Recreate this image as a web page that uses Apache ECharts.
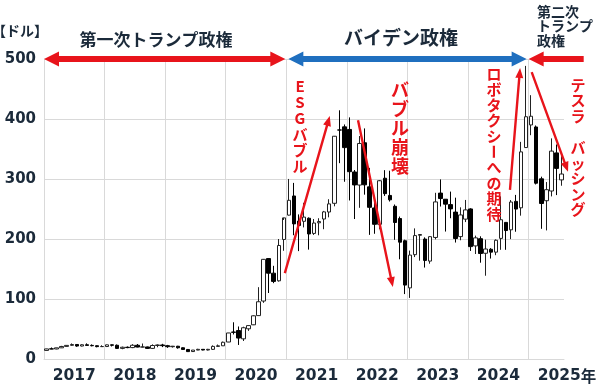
<!DOCTYPE html>
<html><head><meta charset="utf-8">
<script src="https://cdn.jsdelivr.net/npm/echarts@6/dist/echarts.min.js"></script>
<style>html,body{margin:0;padding:0;background:#fff}#c{width:600px;height:386px}</style>
</head><body><div id="c"></div>
<script>
// ---- data (monthly, USD, split-adjusted) ----
const years = ['2017','2018','2019','2020','2021','2022','2023','2024','2025'];
const monthsPerYear = [12,12,12,12,12,12,12,12,7];
const months = [];
years.forEach((y, i) => { for (let m = 1; m <= monthsPerYear[i]; m++) months.push(y + '-' + (m < 10 ? '0' + m : m)); });

const openP = [
 14.3,16.9,16.7,18.6,21.0,22.8,24.2,21.6,23.7,22.7,22.1,20.6,
 20.8,23.6,22.9,17.7,19.6,19.0,22.9,19.9,20.1,17.7,22.5,23.4,
 22.2,20.5,21.3,18.7,15.9,12.4,14.9,16.1,15.0,16.1,21.0,22.0,
 28.3,44.9,47.4,33.6,50.3,57.0,72.3,96.6,167.4,143.0,130.3,199.2,
 239.8,271.7,230.0,229.5,234.6,209.3,227.0,233.3,245.0,259.5,381.7,386.9,
 382.6,311.7,289.9,360.4,286.9,251.7,224.5,301.3,272.6,254.5,234.1,197.1,
 118.5,173.9,206.2,199.9,163.2,202.6,276.5,266.3,257.3,244.8,204.0,233.1,
 250.1,188.5,200.5,176.2,182.9,178.1,201.0,227.7,215.3,262.7,252.0,352.4,
 390.1,386.7,300.3,263.8,280.0,343.5,298.5];
const closeP = [
 16.8,16.7,18.6,20.9,22.7,24.1,21.6,23.7,22.7,22.1,20.6,20.8,
 23.6,22.9,17.7,19.6,19.0,22.9,19.9,20.1,17.7,22.5,23.4,22.2,
 20.5,21.3,18.7,15.9,12.3,14.9,16.1,15.0,16.1,21.0,22.0,27.9,
 43.4,44.5,34.9,52.1,55.7,72.0,95.4,166.1,143.0,129.3,189.2,235.2,
 264.5,225.2,222.6,236.5,208.4,226.6,229.1,245.2,258.5,371.3,381.6,352.3,
 312.2,290.1,359.2,290.3,252.8,224.5,297.1,275.6,265.3,227.5,194.7,123.2,
 173.2,205.7,207.5,164.3,203.9,261.8,267.4,258.1,250.2,200.8,240.1,248.5,
 187.3,201.9,175.8,183.3,178.1,197.9,232.1,214.1,261.6,249.9,345.2,403.8,
 404.6,293.0,259.2,282.2,346.5,317.7,308.3];
const lowP = [
 14.1,16.4,16.3,18.3,20.5,22.0,20.4,21.0,22.7,21.1,19.5,20.2,
 19.9,20.9,16.8,16.3,18.0,18.1,19.4,19.3,16.7,16.7,19.6,19.8,
 18.6,19.0,17.3,15.7,11.8,11.8,14.7,14.5,14.3,15.1,20.6,21.8,
 28.1,40.9,23.4,30.0,46.9,56.5,72.0,93.6,110.0,126.4,129.0,180.4,
 239.1,206.3,179.8,219.3,182.3,206.8,206.2,216.3,236.1,254.5,326.4,295.4,
 264.2,233.3,252.0,273.9,206.9,208.7,216.2,271.8,262.5,198.6,166.2,108.2,
 101.8,169.9,163.9,152.4,158.8,199.4,254.1,212.4,234.6,194.1,197.9,228.2,
 180.1,175.0,160.5,138.8,167.4,173.0,182.0,182.0,199.8,212.1,238.9,352.0,
 373.0,290.9,217.0,214.3,271.0,273.2,288.8];
const highP = [
 17.1,19.2,18.7,21.9,22.9,25.9,25.0,24.6,26.0,24.3,22.9,22.9,
 24.0,24.0,24.2,20.6,20.9,24.7,24.9,25.8,20.7,24.4,24.3,25.3,
 23.5,21.8,21.9,19.4,16.7,15.0,17.0,16.4,16.9,22.7,24.1,29.0,
 43.5,61.2,54.2,53.8,55.6,72.8,119.7,166.7,167.5,155.3,200.0,231.7,
 300.1,293.5,241.0,260.3,236.0,233.3,234.6,246.8,266.3,371.7,414.5,390.9,
 402.7,315.0,371.6,384.3,318.5,264.2,298.3,314.7,313.8,257.5,237.4,198.9,
 180.7,217.7,207.8,202.7,204.5,277.0,299.3,266.5,279.0,268.9,252.8,265.1,
 251.3,205.6,204.5,198.9,184.8,199.4,271.0,228.3,264.9,273.5,361.9,488.5,
 439.7,389.2,303.9,294.9,367.7,357.5,338.0];
const yTicks = [0,100,200,300,400,500];

// ECharts candlestick format: [open, close, low, high]
const candleData = months.map((m, i) => [openP[i], closeP[i], lowP[i], highP[i]]);

const DARK = '#1b2a3a';
const RED = '#e8141b';
const BLUE = '#1f6fbf';
const GRID = '#d9d9d9';
const NUM_FONT = 'DejaVu Sans';
const JP_FONT = 'Noto Sans CJK JP';

const chart = echarts.init(document.getElementById('c'), null, {renderer: 'canvas'});
chart.setOption({
  animation: false,
  backgroundColor: '#fff',
  grid: {left: 44, right: 36, top: 59, bottom: 27, containLabel: false},
  xAxis: {
    type: 'category', data: months, boundaryGap: true,
    axisLine: {show: true, lineStyle: {color: GRID, width: 1}},
    axisTick: {show: false},
    splitLine: {show: true, showMaxLine: false, interval: (i, v) => v.endsWith('-01'), lineStyle: {color: GRID, width: 1}},
    axisLabel: {
      interval: (i, v) => v.endsWith('-07'),
      margin: 9,
      color: DARK, fontFamily: NUM_FONT, fontWeight: 'bold', fontSize: 15.5,
      padding: [0, 5, 0, 0],
      formatter: v => {
        const y = v.slice(0, 4);
        return y === '2025' ? '{sp| }' + y + '{n|年}' : y;
      },
      rich: {
        sp: {width: 16},
        n: {fontFamily: JP_FONT, fontWeight: 'bold', fontSize: 15.5, color: DARK}
      }
    }
  },
  yAxis: {
    type: 'value', min: yTicks[0], max: yTicks[yTicks.length - 1], interval: 100,
    axisLine: {show: true, lineStyle: {color: GRID, width: 1}},
    axisTick: {show: false},
    splitLine: {show: true, lineStyle: {color: GRID, width: 1}},
    axisLabel: {margin: 8, color: DARK, fontFamily: NUM_FONT, fontWeight: 'bold', fontSize: 15}
  },
  series: [{
    type: 'candlestick', data: candleData, barWidth: 4,
    itemStyle: {color: '#ffffff', color0: '#000000', borderColor: '#222222', borderColor0: '#000000', borderWidth: 1}
  }]
});

// ---- annotations ----
function toPx(m, v) {
  const x0 = chart.convertToPixel({xAxisIndex: 0}, 0);
  const x1 = chart.convertToPixel({xAxisIndex: 0}, 1);
  const band = x1 - x0;
  return [x0 - band / 2 + m * band, chart.convertToPixel({yAxisIndex: 0}, v)];
}
function arrowPts(p1, p2, w, hl, hw, both) {
  const dx = p2[0] - p1[0], dy = p2[1] - p1[1];
  const len = Math.hypot(dx, dy);
  const ux = dx / len, uy = dy / len, nx = -uy, ny = ux;
  const P = (p, a, b) => [p[0] + ux * a + nx * b, p[1] + uy * a + ny * b];
  const pts = [];
  if (both) {
    pts.push(p1, P(p1, hl, hw / 2), P(p1, hl, w / 2));
  } else {
    pts.push(P(p1, 0, w / 2));
  }
  pts.push(P(p2, -hl, w / 2), P(p2, -hl, hw / 2), p2, P(p2, -hl, -hw / 2), P(p2, -hl, -w / 2));
  if (both) {
    pts.push(P(p1, hl, -w / 2), P(p1, hl, -hw / 2));
  } else {
    pts.push(P(p1, 0, -w / 2));
  }
  return pts;
}
// [start month-pos, start value, end month-pos, end value, colour, both ends]
const regimeArrows = [
  [0.0, 500, 47.8, 500, RED, true],
  [48.4, 500, 95.6, 500, BLUE, true],
  [106.9, 500, 96.0, 500, RED, false]
];
const trendArrows = [
  [47.7, 143, 56.6, 405],
  [62.2, 398, 69.1, 120],
  [92.3, 282, 94.3, 485],
  [96.6, 478, 103.8, 312]
];
const g = [];
regimeArrows.forEach(a => {
  g.push({type: 'polygon', shape: {points: arrowPts(toPx(a[0], a[1]), toPx(a[2], a[3]), 6, 15, 15, a[5])}, style: {fill: a[4]}, z: 10});
});
trendArrows.forEach(a => {
  g.push({type: 'polygon', shape: {points: arrowPts(toPx(a[0], a[1]), toPx(a[2], a[3]), 2.4, 10, 8, false)}, style: {fill: RED}, z: 10});
});
function txt(x, y, text, size, color, align, lh, vAlign, rot) {
  return {type: 'text', x: x, y: y, z: 11, rotation: rot || 0, style: {
    text: text, fill: color, font: 'bold ' + size + 'px "' + JP_FONT + '"',
    textAlign: align || 'left', textVerticalAlign: vAlign || 'top', lineHeight: lh || size
  }};
}
const vert = s => s.split('').join('\n');
g.push(txt(-8, 31, '【ドル】', 14, DARK, 'left', 14, 'middle'));
g.push(txt(156, 40, '第一次トランプ政権', 17, DARK, 'center', 17, 'middle'));
g.push(txt(401, 38, 'バイデン政権', 19, DARK, 'center', 19, 'middle'));
g.push(txt(537, 4, '第二次\nトランプ\n政権', 14, DARK, 'left', 14.5, 'top'));
g.push(txt(300, 78, vert('ESGバブル'), 15, RED, 'center', 16, 'top'));
g.push(txt(400, 81, vert('バブル崩壊'), 18, RED, 'center', 19, 'top'));
// vertical text with the long-vowel mark turned upright
const RT_TOP = 66, RT_LH = 15.6;
g.push(txt(494, RT_TOP, vert('ロボタクシ'), 15, RED, 'center', RT_LH, 'top'));
g.push(txt(494, RT_TOP + 5.5 * RT_LH, 'ー', 15, RED, 'center', RT_LH, 'middle', -Math.PI / 2));
g.push(txt(494, RT_TOP + 6 * RT_LH, vert('への期待'), 15, RED, 'center', RT_LH, 'top'));
g.push(txt(578, 77, vert('テスラ　バッシング'), 15, RED, 'center', 15.6, 'top'));
chart.setOption({graphic: g});
</script>
</body></html>
